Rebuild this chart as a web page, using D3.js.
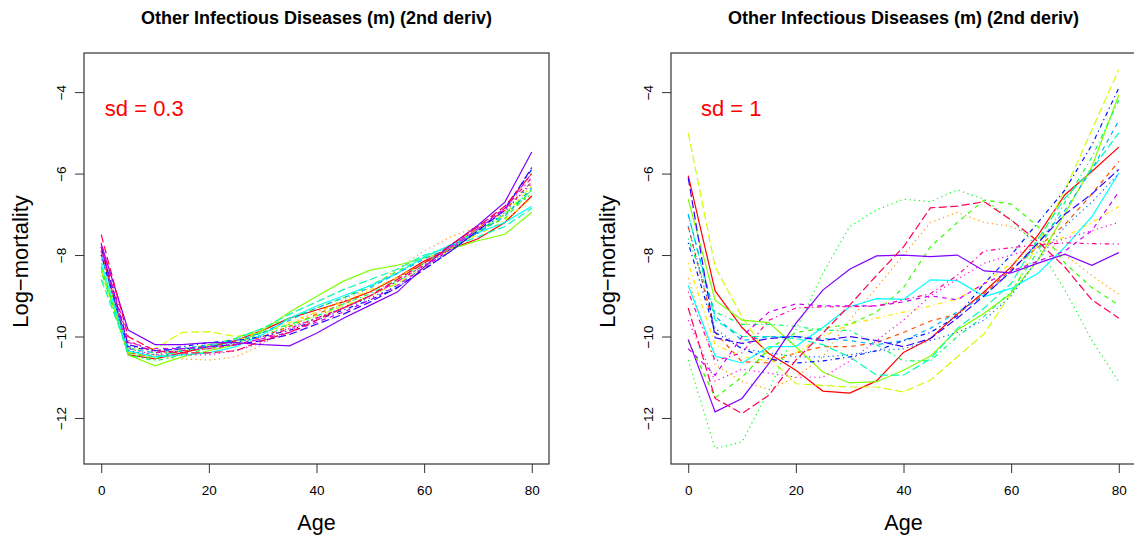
<!DOCTYPE html>
<html>
<head>
<meta charset="utf-8">
<script src="https://cdn.jsdelivr.net/npm/d3@7"></script>
<style>
  body { margin: 0; background: #fff; }
  svg { display: block; font-family: "Liberation Sans", Arial, sans-serif; }
</style>
</head>
<body>
<div id="chart"></div>
<script>
// ages on the x axis
const ages = [0, 5, 10, 15, 20, 25, 30, 35, 40, 45, 50, 55, 60, 65, 70, 75, 80];
const xTicks = [0, 20, 40, 60, 80];
const yTicks = [-4, -6, -8, -10, -12];
const titleText = "Other Infectious Diseases (m) (2nd deriv)";
const sdLabels = ["sd = 0.3", "sd = 1"];

// rainbow(20) and lty 1:5, as matplot cycles them
const seriesColors = ["#FF0000", "#FF4D00", "#FF9900", "#FFE500", "#CCFF00",
  "#80FF00", "#33FF00", "#00FF19", "#00FF66", "#00FFB2",
  "#00FFFF", "#00B3FF", "#0066FF", "#001AFF", "#3300FF",
  "#8000FF", "#CC00FF", "#FF00E6", "#FF0099", "#FF004D"];
const ltyDash = [null, "4.5,4.5", "1.2,3.5", "1.2,3.5,4.5,3.5", "8,3.5"];

// left panel, sd = 0.3
const sdSmall = [
  [-7.8, -10.45, -10.55, -10.4, -10.25, -10.1, -9.85, -9.55, -9.35, -9.15, -8.9, -8.55, -8.15, -7.85, -7.6, -7.2, -6.55],
  [-7.9, -10.4, -10.5, -10.35, -10.3, -10.2, -10.0, -9.75, -9.45, -9.2, -8.9, -8.55, -8.2, -7.8, -7.35, -6.9, -6.2],
  [-8.0, -10.4, -10.5, -10.55, -10.58, -10.5, -10.2, -9.7, -9.4, -9.1, -8.8, -8.35, -7.9, -7.55, -7.3, -6.95, -6.5],
  [-8.5, -10.4, -10.45, -10.3, -10.2, -10.1, -9.9, -9.65, -9.4, -9.15, -8.85, -8.55, -8.2, -7.8, -7.5, -7.15, -6.6],
  [-8.4, -10.3, -10.3, -9.9, -9.88, -10.0, -9.9, -9.7, -9.5, -9.25, -9.0, -8.7, -8.3, -7.85, -7.45, -7.0, -6.3],
  [-8.3, -10.45, -10.72, -10.5, -10.35, -10.2, -9.85, -9.4, -9.02, -8.64, -8.37, -8.25, -8.08, -7.85, -7.65, -7.49, -6.95],
  [-8.3, -10.4, -10.55, -10.35, -10.2, -10.05, -9.8, -9.55, -9.3, -9.05, -8.75, -8.4, -8.05, -7.75, -7.4, -7.1, -6.4],
  [-8.1, -10.3, -10.4, -10.35, -10.25, -10.15, -9.95, -9.75, -9.55, -9.3, -9.0, -8.65, -8.25, -7.8, -7.4, -7.0, -6.5],
  [-8.4, -10.45, -10.6, -10.45, -10.3, -10.15, -9.9, -9.7, -9.5, -9.2, -8.95, -8.6, -8.2, -7.8, -7.4, -7.0, -6.4],
  [-8.6, -10.35, -10.5, -10.35, -10.25, -10.05, -9.8, -9.45, -9.15, -8.85, -8.6, -8.35, -8.0, -7.8, -7.55, -7.3, -6.85],
  [-8.2, -10.35, -10.5, -10.45, -10.4, -10.25, -9.95, -9.55, -9.25, -9.0, -8.75, -8.45, -8.05, -7.75, -7.45, -7.2, -6.8],
  [-8.0, -10.3, -10.4, -10.3, -10.2, -10.1, -9.9, -9.6, -9.3, -9.05, -8.8, -8.45, -8.1, -7.8, -7.45, -7.05, -6.35],
  [-7.9, -10.35, -10.45, -10.35, -10.25, -10.15, -10.0, -9.8, -9.55, -9.3, -9.05, -8.75, -8.3, -7.85, -7.45, -6.95, -6.2],
  [-8.0, -10.25, -10.35, -10.25, -10.15, -10.1, -10.0, -9.85, -9.6, -9.35, -9.1, -8.8, -8.35, -7.9, -7.4, -6.85, -5.9],
  [-7.8, -10.2, -10.35, -10.3, -10.25, -10.2, -10.1, -9.95, -9.7, -9.45, -9.15, -8.8, -8.35, -7.9, -7.4, -6.9, -5.85],
  [-7.73, -9.84, -10.2, -10.2, -10.15, -10.15, -10.2, -10.23, -9.92, -9.55, -9.23, -8.91, -8.29, -7.75, -7.27, -6.7, -5.47],
  [-7.8, -10.15, -10.3, -10.3, -10.25, -10.2, -10.05, -9.9, -9.65, -9.4, -9.1, -8.75, -8.3, -7.85, -7.35, -6.85, -6.0],
  [-7.9, -10.3, -10.45, -10.45, -10.45, -10.35, -10.15, -9.85, -9.55, -9.3, -9.0, -8.65, -8.25, -7.8, -7.35, -6.9, -6.25],
  [-7.7, -10.1, -10.4, -10.35, -10.3, -10.2, -10.05, -9.8, -9.55, -9.3, -9.0, -8.65, -8.25, -7.8, -7.3, -6.85, -6.1],
  [-7.5, -10.0, -10.35, -10.4, -10.4, -10.35, -10.1, -9.9, -9.6, -9.3, -9.0, -8.6, -8.2, -7.75, -7.3, -6.8, -6.0]
];

// right panel, sd = 1
const sdLarge = [
  [-6.05, -8.88, -9.78, -10.42, -10.83, -11.34, -11.39, -11.09, -10.39, -10.05, -9.45, -8.9, -8.29, -7.51, -6.52, -5.95, -5.35],
  [-7.3, -9.9, -10.62, -10.65, -10.4, -10.25, -10.25, -10.15, -9.9, -9.62, -9.45, -8.95, -8.35, -7.8, -7.25, -6.5, -5.7],
  [-8.57, -10.7, -11.1, -11.3, -11.0, -10.5, -9.6, -8.8, -8.0, -7.2, -6.95, -7.2, -7.3, -7.6, -8.0, -8.5, -8.96],
  [-8.2, -10.2, -10.5, -10.6, -10.4, -10.0, -9.7, -9.55, -9.4, -9.25, -9.08, -8.7, -8.2, -7.8, -7.55, -7.2, -6.81],
  [-5.0, -8.29, -9.52, -10.5, -11.16, -11.2, -11.24, -11.24, -11.36, -11.07, -10.5, -9.93, -8.94, -7.71, -6.4, -4.93, -3.45],
  [-6.63, -9.11, -9.6, -9.66, -10.25, -10.87, -11.14, -11.11, -10.83, -10.48, -9.84, -9.43, -8.94, -8.12, -6.98, -5.83, -4.07],
  [-10.1, -11.5, -11.0, -10.3, -9.9, -9.8, -9.7, -9.4, -8.8, -7.8, -7.2, -6.65, -6.75, -7.3, -8.2, -8.8, -9.23],
  [-10.58, -12.75, -12.59, -11.32, -9.84, -8.45, -7.3, -6.89, -6.63, -6.69, -6.4, -6.63, -7.14, -7.8, -8.86, -10.09, -11.11],
  [-7.6, -9.4, -9.7, -9.7, -9.75, -9.85, -9.85, -10.2, -10.6, -10.6, -10.0, -9.5, -8.9, -7.9, -6.7, -5.6, -4.2],
  [-7.0, -9.6, -10.0, -10.0, -10.05, -10.2, -10.5, -10.95, -10.95, -10.55, -9.8, -9.3, -8.7, -7.6, -6.6, -5.9, -5.0],
  [-8.75, -10.48, -10.65, -10.25, -10.24, -9.78, -9.27, -9.07, -9.09, -8.61, -8.63, -9.02, -8.82, -8.45, -7.8, -7.06, -5.99],
  [-7.0, -9.5, -10.1, -10.0, -10.0, -10.05, -10.1, -10.2, -10.1, -9.8, -9.4, -9.0, -8.4, -7.7, -6.9, -5.9, -4.7],
  [-7.3, -9.8, -10.3, -10.4, -10.5, -10.5, -10.45, -10.35, -10.3, -10.1, -9.9, -9.6, -9.0, -8.1, -7.3, -6.7, -6.0],
  [-7.7, -9.9, -10.3, -10.55, -10.65, -10.6, -10.5, -10.35, -10.1, -9.9, -9.5, -8.7, -8.0, -7.2, -6.4, -5.3, -3.9],
  [-6.1, -10.03, -10.17, -10.05, -10.0, -10.1, -10.0, -10.1, -10.25, -10.05, -9.55, -9.0, -8.4, -7.7, -7.0, -6.5, -5.9],
  [-10.07, -11.85, -11.52, -10.66, -9.68, -8.86, -8.35, -8.02, -8.0, -8.04, -8.0, -8.39, -8.44, -8.2, -7.98, -8.25, -7.94],
  [-10.3, -10.95, -10.0, -9.4, -9.2, -9.25, -9.25, -9.25, -9.15, -9.0, -9.1, -8.7, -8.4, -8.15, -7.9, -7.4, -6.45],
  [-9.6, -11.1, -10.8, -10.9, -11.0, -11.0, -10.6, -10.1, -9.6, -9.0, -8.6, -8.2, -8.0, -7.8, -7.6, -7.4, -7.2],
  [-8.9, -10.6, -10.4, -9.6, -9.3, -9.27, -9.27, -9.25, -9.1, -8.95, -8.5, -7.9, -7.82, -7.75, -7.7, -7.72, -7.73],
  [-9.3, -11.52, -11.89, -11.44, -10.58, -9.92, -9.23, -8.5, -7.8, -6.84, -6.8, -6.69, -7.14, -7.67, -8.3, -9.1, -9.55]
];

const width = 1134, height = 541;
const svg = d3.select("#chart").append("svg")
  .attr("width", width).attr("height", height);

const panels = [
  { data: sdSmall, left: 84, label: sdLabels[0] },
  { data: sdLarge, left: 671, label: sdLabels[1] }
];
const boxW = 465, boxTop = 53, boxBottom = 464;

panels.forEach((p) => {
  const x = d3.scaleLinear().domain([-3.2, 83.2]).range([p.left, p.left + boxW]);
  const y = d3.scaleLinear().domain([-13.13, -3.04]).range([boxBottom, boxTop]);
  const g = svg.append("g");

  // series lines
  const line = d3.line().x((d, i) => x(ages[i])).y((d) => y(d));
  g.selectAll("path.series")
    .data(p.data)
    .enter()
    .append("path")
    .attr("class", "series")
    .attr("d", line)
    .attr("fill", "none")
    .attr("stroke", (d, i) => seriesColors[i])
    .attr("stroke-width", 1.2)
    .attr("stroke-dasharray", (d, i) => ltyDash[i % 5]);

  // box
  g.append("rect")
    .attr("x", p.left).attr("y", boxTop)
    .attr("width", boxW).attr("height", boxBottom - boxTop)
    .attr("fill", "none").attr("stroke", "#333").attr("stroke-width", 1.2);

  // x axis
  const xAxis = g.append("g")
    .attr("transform", `translate(0,${boxBottom})`)
    .call(d3.axisBottom(x).tickValues(xTicks).tickSize(9).tickPadding(12)
      .tickFormat(d3.format("d")));
  xAxis.select(".domain").remove();
  xAxis.selectAll("line").attr("stroke", "#333");
  xAxis.selectAll("text").attr("font-size", 13.5).attr("fill", "#000");

  // y axis, labels turned like R's las = 0
  const yAxis = g.append("g")
    .attr("transform", `translate(${p.left},0)`)
    .call(d3.axisLeft(y).tickValues(yTicks).tickSize(9).tickFormat((d) => "\u2212" + Math.abs(d)));
  yAxis.select(".domain").remove();
  yAxis.selectAll("line").attr("stroke", "#333");
  yAxis.selectAll("text")
    .attr("font-size", 13.5).attr("fill", "#000")
    .attr("x", null)
    .attr("text-anchor", "middle")
    .attr("transform", "translate(-23,0) rotate(-90)")
    .attr("dy", "0.35em");

  // title
  g.append("text")
    .attr("x", p.left + boxW / 2).attr("y", 24)
    .attr("text-anchor", "middle")
    .attr("font-size", 18).attr("font-weight", "bold")
    .text(titleText);

  // axis titles
  g.append("text")
    .attr("x", p.left + boxW / 2).attr("y", 530)
    .attr("text-anchor", "middle").attr("font-size", 21.5)
    .text("Age");
  g.append("text")
    .attr("transform", `translate(${p.left - 56},${(boxTop + boxBottom) / 2 + 3}) rotate(-90)`)
    .attr("text-anchor", "middle").attr("font-size", 22)
    .text("Log\u2212mortality");

  // sd annotation, centred at age 8 like R's text()
  g.append("text")
    .attr("x", x(8)).attr("y", 116)
    .attr("text-anchor", "middle")
    .attr("font-size", 22).attr("fill", "#FF0000")
    .text(p.label);
});
</script>
</body>
</html>
